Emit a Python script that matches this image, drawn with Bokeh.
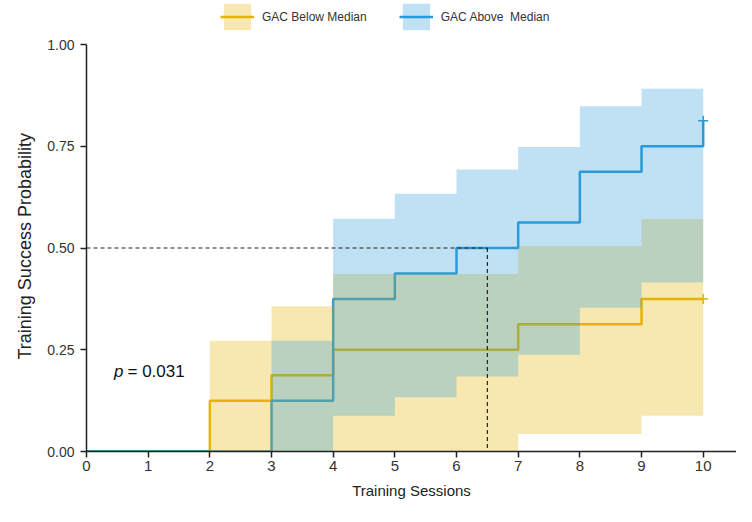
from bokeh.plotting import figure
from bokeh.models import Range1d, Legend, LegendItem, FixedTicker, NumeralTickFormatter, Title
from bokeh.core.properties import value
from bokeh.embed import file_html
from bokeh.resources import INLINE

# ---- data ----
below_t = [0, 2, 3, 4, 7, 9, 10]
below_s = [0, 0.125, 0.1875, 0.25, 0.3125, 0.375, 0.375]
above_t = [0, 3, 4, 5, 6, 7, 8, 9, 10]
above_s = [0, 0.125, 0.375, 0.4375, 0.5, 0.5625, 0.6875, 0.75, 0.8125]

below_ci_t = [2, 3, 4, 5, 6, 7, 8, 9, 10]
below_lo = [0, 0, 0, 0, 0, 0.043, 0.043, 0.088, 0.088]
below_hi = [0.272, 0.357, 0.436, 0.436, 0.436, 0.505, 0.505, 0.571, 0.571]
above_ci_t = [3, 4, 5, 6, 7, 8, 9, 10]
above_lo = [0, 0.088, 0.133, 0.184, 0.238, 0.353, 0.415, 0.415]
above_hi = [0.272, 0.572, 0.633, 0.693, 0.748, 0.848, 0.891, 0.891]

censor_t = [10]
below_censor = [0.375]
above_censor = [0.8125]

median_time = 6.5
median_level = 0.5
x_ticks = [0, 1, 2, 3, 4, 5, 6, 7, 8, 9, 10]
y_ticks = [0, 0.25, 0.5, 0.75, 1.0]
p_label = "= 0.031"
series_names = ["GAC Below Median", "GAC Above  Median"]
y_title = "Training Success Probability"
x_title = "Training Sessions"

YEL = "#E6B400"
BLU = "#2A9AD8"
FONT = "Liberation Sans"

# frame: top at canvas y=0, bottom at 451; 407 px per unit (1.0 at y~44)
FRAME_H = 451
PX_PER_UNIT = 407.0
p = figure(width=736, height=506, output_backend="svg", toolbar_location=None,
           x_range=Range1d(0, 10.54), y_range=Range1d(0, FRAME_H / PX_PER_UNIT),
           min_border_left=86, min_border_right=0, min_border_top=0,
           min_border_bottom=506 - FRAME_H)
p.grid.visible = False
p.outline_line_color = None
p.background_fill_color = "white"

l_below = p.step(below_t, below_s, mode="after", line_color=YEL, line_width=2.5)
l_above = p.step(above_t, above_s, mode="after", line_color=BLU, line_width=2.5)
p.scatter(censor_t, below_censor, marker="cross", size=10, line_color=YEL, line_width=1.5)
p.scatter(censor_t, above_censor, marker="cross", size=10, line_color=BLU, line_width=1.5)

b_below = p.varea_step(x=below_ci_t, y1=below_lo, y2=below_hi, step_mode="after",
                       fill_color=YEL, fill_alpha=0.3)
b_above = p.varea_step(x=above_ci_t, y1=above_lo, y2=above_hi, step_mode="after",
                       fill_color=BLU, fill_alpha=0.3)

p.line([0, median_time], [median_level, median_level], line_color="#222222",
       line_dash="4 3", line_width=1.2)
p.line([median_time, median_time], [median_level, 0], line_color="#222222",
       line_dash="4 3", line_width=1.2)

p.text([0.446], [0.196], text=["p"], text_font=value(FONT), text_font_style="italic",
       text_font_size="17px", text_color="#111111", text_baseline="alphabetic")
p.text([0.665], [0.196], text=[p_label], text_font=value(FONT),
       text_font_size="17px", text_color="#111111", text_baseline="alphabetic")

for ax in (p.xaxis[0], p.yaxis[0]):
    ax.axis_line_color = "#222222"
    ax.axis_line_width = 1.5
    ax.major_tick_line_color = "#222222"
    ax.major_tick_line_width = 1.5
    ax.major_tick_out = 6
    ax.major_tick_in = 0
    ax.minor_tick_line_color = None
    ax.major_label_text_font = FONT
    ax.major_label_text_color = "#333333"
    ax.axis_label_text_font = FONT
    ax.axis_label_text_font_style = "normal"
    ax.axis_label_text_color = "#222222"

p.yaxis.bounds = (0, 1)
p.yaxis.major_label_text_font_size = "14px"
p.xaxis.major_label_text_font_size = "15px"
p.xaxis.axis_label_text_font_size = "15px"
p.xaxis.ticker = FixedTicker(ticks=x_ticks)
p.yaxis.ticker = FixedTicker(ticks=y_ticks)
p.yaxis.formatter = NumeralTickFormatter(format="0.00")
p.xaxis.axis_label = x_title
p.yaxis.major_label_standoff = 6
p.xaxis.major_label_standoff = 3
p.xaxis.axis_label_standoff = 8

# y-axis title as a left Title so that it can be centred on the 0..1 span
title_kw = dict(text=y_title, align="left", offset=92, text_font=FONT,
                text_font_size="18px", text_font_style="normal", text_color="#222222")
if "standoff" in Title.properties():
    title_kw["standoff"] = 20
p.add_layout(Title(**title_kw), "left")

legend = Legend(items=[
    LegendItem(label=series_names[0], renderers=[b_below, l_below]),
    LegendItem(label=series_names[1], renderers=[b_above, l_above]),
], orientation="horizontal", location=(134, FRAME_H - 33))
legend.glyph_width = 34
legend.glyph_height = 33
legend.label_standoff = 8
legend.spacing = 32
legend.padding = 0
legend.margin = 0
legend.border_line_color = None
legend.background_fill_alpha = 0
legend.label_text_font = FONT
legend.label_text_font_size = "12px"
legend.label_text_color = "#333333"
p.add_layout(legend, "center")

open("out.html", "w").write(file_html(p, INLINE))
